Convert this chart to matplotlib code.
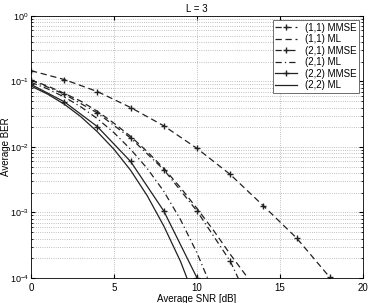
import matplotlib.pyplot as plt
from matplotlib.ticker import LogLocator, NullFormatter

snr_mmse_11 = [0, 2, 4, 6, 8, 10, 12, 14, 16, 18, 20]
ber_mmse_11 = [0.146, 0.107, 0.070, 0.040, 0.021, 0.0095, 0.0038, 0.00126, 0.000406, 0.000102, 0.00002]

snr_ml = [0, 1, 2, 3, 4, 5, 6, 7, 8, 9, 10, 11, 12, 13, 14]
ber_ml_11 = [0.105, 0.085, 0.066, 0.050, 0.035, 0.023, 0.0145, 0.0085, 0.0047, 0.0024,
             0.00115, 0.00053, 0.00023, 0.000105, 0.00004]

snr_mmse_21 = [0, 2, 4, 6, 8, 10, 12, 14]
ber_mmse_21 = [0.105, 0.064, 0.033, 0.0137, 0.0045, 0.00105, 0.00018, 0.000015]

snr_ml_21 = [0, 1, 2, 3, 4, 5, 6, 7, 8, 9, 10, 11]
ber_ml_21 = [0.097, 0.077, 0.058, 0.041, 0.027, 0.0165, 0.0092, 0.0047, 0.0021, 0.00078, 0.00024, 0.00006]

snr_mmse_22 = [0, 2, 4, 6, 8, 10, 12]
ber_mmse_22 = [0.090, 0.049, 0.0204, 0.006, 0.00105, 0.0001, 0.000003]

snr_ml_22 = [0, 1, 2, 3, 4, 5, 6, 7, 8, 9, 10]
ber_ml_22 = [0.085, 0.064, 0.045, 0.029, 0.017, 0.0092, 0.0044, 0.0018, 0.00062, 0.00018, 0.00004]

plt.rcParams['font.family'] = ['Liberation Sans', 'DejaVu Sans']

fig = plt.figure(figsize=(3.69, 3.03), dpi=100)
ax = fig.add_axes([0.084, 0.0825, 0.900, 0.865])

c = '#222222'
lw = 0.9
ms = 5
dash = (5, 3)
dashdot = (5, 2.5, 1, 2.5)
ax.semilogy(snr_mmse_11, ber_mmse_11, '--', dashes=dash, marker='+', color=c, lw=lw, ms=ms, label='(1,1) MMSE')
ax.semilogy(snr_ml, ber_ml_11, '--', dashes=dash, color=c, lw=lw, label='(1,1) ML')
ax.semilogy(snr_mmse_21, ber_mmse_21, '-.', dashes=dashdot, marker='+', color=c, lw=lw, ms=ms, label='(2,1) MMSE')
ax.semilogy(snr_ml_21, ber_ml_21, '-.', dashes=dashdot, color=c, lw=lw, label='(2,1) ML')
ax.semilogy(snr_mmse_22, ber_mmse_22, '-', marker='+', color=c, lw=lw, ms=ms, label='(2,2) MMSE')
ax.semilogy(snr_ml_22, ber_ml_22, '-', color=c, lw=lw, label='(2,2) ML')

ax.set_xlim(0, 20)
ax.set_ylim(1e-4, 1)
ax.set_xticks([0, 5, 10, 15, 20])
ax.yaxis.set_major_locator(LogLocator(base=10, numticks=10))
ax.yaxis.set_minor_locator(LogLocator(base=10, subs=range(2, 10), numticks=10))
ax.yaxis.set_minor_formatter(NullFormatter())
ax.grid(True, which='both', linestyle=':', color='#aaaaaa', lw=0.6)
ax.tick_params(which='both', direction='in', top=True, right=True, labelsize=7, length=3)
ax.tick_params(axis='y', labelsize=6.5, pad=1.5)
ax.tick_params(which='minor', length=1.5)
for s in ax.spines.values():
    s.set_linewidth(0.6)

ax.set_title('L = 3', fontsize=7, pad=3)
ax.set_xlabel('Average SNR [dB]', fontsize=7, labelpad=1)
ax.set_ylabel('Average BER', fontsize=7)
ax.yaxis.set_label_coords(-0.061, 0.5)

leg = ax.legend(loc='upper right', fontsize=7, handlelength=2.2, borderpad=0.3,
                labelspacing=0.15, fancybox=False, framealpha=1, edgecolor='#555555',
                borderaxespad=0.4)
leg.get_frame().set_linewidth(0.6)

fig.savefig('out.png', dpi=100)
